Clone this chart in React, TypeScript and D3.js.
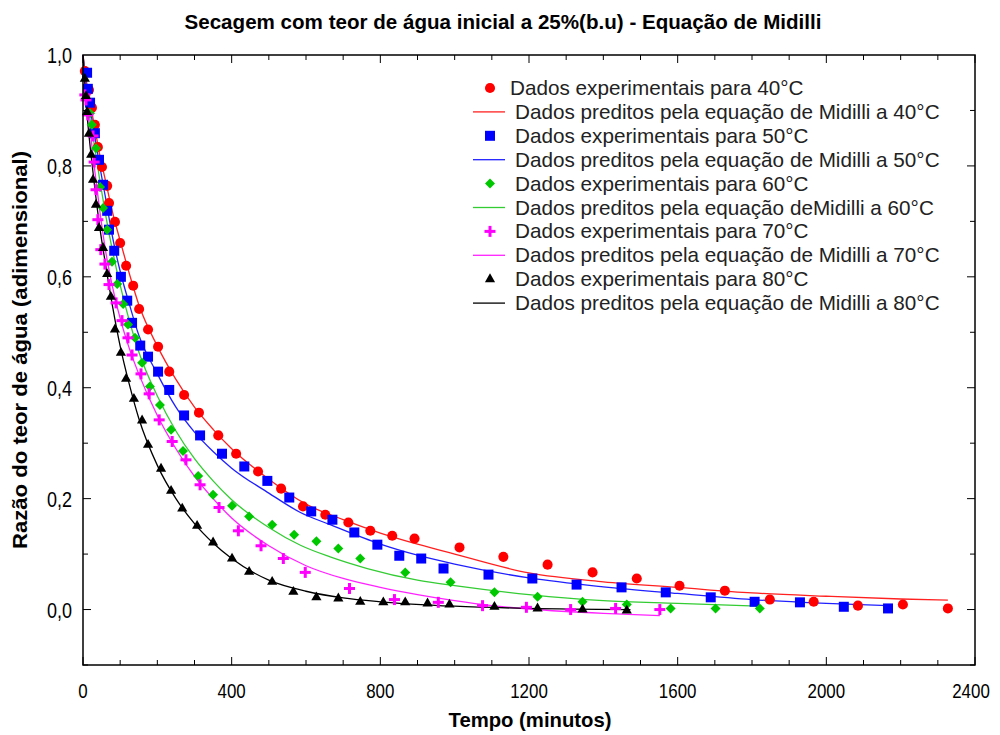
import React from "react";
import * as d3 from "d3";

// experimental points: [tempo (min), razão]
const exp40 = [
  [5, 0.971], [16, 0.937], [24, 0.905], [32, 0.874], [40, 0.834], [51, 0.798], [65, 0.764],
  [70, 0.733], [86, 0.699], [100, 0.661], [116, 0.62], [135, 0.584], [151, 0.542], [175, 0.505],
  [202, 0.474], [232, 0.429], [272, 0.387], [312, 0.355], [364, 0.314], [412, 0.281], [471, 0.249],
  [533, 0.218], [592, 0.186], [652, 0.171], [714, 0.157], [773, 0.142], [832, 0.133], [892, 0.128],
  [1013, 0.112], [1131, 0.095], [1250, 0.081], [1371, 0.067], [1490, 0.056], [1605, 0.043],
  [1727, 0.034], [1848, 0.018], [1966, 0.014], [2085, 0.007], [2206, 0.009], [2327, 0.002],
];
const exp50 = [
  [11, 0.968], [13, 0.939], [19, 0.914], [32, 0.859], [43, 0.811], [54, 0.766], [65, 0.719],
  [70, 0.685], [84, 0.647], [102, 0.6], [119, 0.557], [132, 0.517], [154, 0.476], [175, 0.456],
  [202, 0.429], [232, 0.396], [272, 0.35], [315, 0.314], [374, 0.281], [434, 0.258], [496, 0.232],
  [555, 0.202], [614, 0.177], [671, 0.162], [730, 0.139], [792, 0.117], [851, 0.097], [910, 0.092],
  [970, 0.074], [1091, 0.063], [1209, 0.056], [1328, 0.045], [1449, 0.04], [1568, 0.031],
  [1689, 0.022], [1807, 0.014], [1929, 0.013], [2047, 0.005], [2166, 0.002],
];
const exp60 = [
  [19, 0.895], [24, 0.874], [35, 0.832], [46, 0.762], [54, 0.724], [65, 0.685], [78, 0.627],
  [92, 0.587], [108, 0.551], [121, 0.514], [140, 0.49], [159, 0.445], [180, 0.402], [207, 0.369],
  [237, 0.324], [269, 0.286], [310, 0.241], [350, 0.207], [401, 0.187], [447, 0.168], [509, 0.153],
  [568, 0.135], [628, 0.123], [687, 0.11], [746, 0.092], [867, 0.067], [989, 0.049], [1107, 0.031],
  [1223, 0.023], [1344, 0.014], [1463, 0.009], [1581, 0.002], [1702, 0.002], [1821, 0.002],
];
const exp70 = [
  [5, 0.928], [8, 0.919], [13, 0.892], [27, 0.854], [30, 0.807], [35, 0.757], [40, 0.703],
  [48, 0.649], [59, 0.623], [70, 0.586], [89, 0.553], [105, 0.521], [121, 0.49], [132, 0.459],
  [156, 0.425], [178, 0.389], [205, 0.342], [240, 0.303], [277, 0.27], [315, 0.225], [366, 0.184],
  [418, 0.142], [479, 0.115], [539, 0.092], [598, 0.067], [717, 0.038], [838, 0.018], [956, 0.013],
  [1075, 0.007], [1193, 0.004], [1312, 0.0], [1433, 0.002], [1552, 0.0],
];
const exp80 = [
  [5, 0.957], [8, 0.926], [11, 0.897], [16, 0.858], [22, 0.82], [27, 0.775], [35, 0.73],
  [43, 0.688], [54, 0.652], [65, 0.605], [75, 0.564], [86, 0.505], [102, 0.463], [116, 0.416],
  [137, 0.38], [159, 0.341], [175, 0.297], [210, 0.254], [237, 0.214], [267, 0.182], [307, 0.151],
  [350, 0.121], [401, 0.092], [447, 0.068], [509, 0.05], [566, 0.032], [628, 0.022], [687, 0.02],
  [746, 0.014], [808, 0.013], [867, 0.013], [927, 0.011], [986, 0.009], [1107, 0.005],
  [1223, 0.002], [1344, 0.0], [1463, -0.002],
];

// predicted curves (Midilli)
const fit40 = [
  [0, 1.0], [10, 0.95], [20, 0.91], [30, 0.875], [45, 0.82], [60, 0.775], [80, 0.715], [100, 0.665],
  [125, 0.605], [150, 0.55], [200, 0.475], [250, 0.415], [300, 0.365], [350, 0.325], [400, 0.29],
  [500, 0.235], [600, 0.19], [700, 0.162], [800, 0.138], [900, 0.118], [1000, 0.1], [1200, 0.066],
  [1400, 0.05], [1600, 0.04], [1800, 0.03], [2000, 0.024], [2200, 0.019], [2327, 0.017],
];
const fit50 = [
  [0, 1.0], [10, 0.94], [20, 0.9], [30, 0.86], [45, 0.8], [60, 0.745], [80, 0.67], [100, 0.61],
  [125, 0.55], [150, 0.495], [200, 0.425], [250, 0.365], [300, 0.32], [350, 0.285], [400, 0.255],
  [500, 0.21], [585, 0.175], [665, 0.153], [800, 0.118], [900, 0.098], [1000, 0.082], [1200, 0.057],
  [1400, 0.041], [1600, 0.029], [1800, 0.018], [2000, 0.011], [2166, 0.007],
];
const fit60 = [
  [0, 1.0], [10, 0.93], [20, 0.88], [30, 0.84], [45, 0.775], [60, 0.715], [80, 0.645], [100, 0.585],
  [125, 0.52], [150, 0.465], [200, 0.385], [250, 0.322], [300, 0.272], [350, 0.232], [400, 0.198],
  [500, 0.148], [585, 0.116], [665, 0.095], [765, 0.074], [900, 0.053], [1000, 0.043], [1200, 0.027],
  [1400, 0.016], [1600, 0.011], [1815, 0.006],
];
const fit70 = [
  [0, 1.0], [10, 0.92], [20, 0.86], [30, 0.8], [45, 0.72], [60, 0.65], [80, 0.58], [100, 0.525],
  [125, 0.47], [150, 0.425], [200, 0.35], [250, 0.29], [300, 0.24], [350, 0.2], [400, 0.165],
  [500, 0.115], [600, 0.079], [700, 0.056], [800, 0.04], [900, 0.027], [1000, 0.016], [1100, 0.007],
  [1200, 0.001], [1400, -0.007], [1552, -0.011],
];
const fit80 = [
  [0, 1.0], [10, 0.9], [20, 0.83], [30, 0.77], [45, 0.69], [60, 0.625], [80, 0.545], [100, 0.475],
  [125, 0.405], [150, 0.345], [200, 0.26], [250, 0.2], [300, 0.155], [350, 0.12], [400, 0.092],
  [500, 0.053], [600, 0.033], [700, 0.021], [800, 0.014], [1000, 0.006], [1200, 0.002], [1473, 0.0],
];

const xLabels = [0, 400, 800, 1200, 1600, 2000, 2400];
const yLabels = ["0,0", "0,2", "0,4", "0,6", "0,8", "1,0"];

const series = [
  { exp: exp40, fit: fit40, mark: "circle", color: "#ff0000", line: "#ff2020", t: "40" },
  { exp: exp50, fit: fit50, mark: "square", color: "#0000ff", line: "#2020ff", t: "50" },
  { exp: exp60, fit: fit60, mark: "diamond", color: "#00c800", line: "#33cc33", t: "60" },
  { exp: exp70, fit: fit70, mark: "plus", color: "#ff00ff", line: "#ff22ff", t: "70" },
  { exp: exp80, fit: fit80, mark: "triangle", color: "#000000", line: "#000000", t: "80" },
];

const font = "'Liberation Sans', Arial, sans-serif";

function Marker({ type, x, y, color }: { type: string; x: number; y: number; color: string }) {
  if (type === "plus") {
    return (
      <g stroke={color} strokeWidth={3}>
        <line x1={x - 5.5} y1={y} x2={x + 5.5} y2={y} />
        <line x1={x} y1={y - 5.5} x2={x} y2={y + 5.5} />
      </g>
    );
  }
  if (type === "diamond") {
    const r = 5;
    return (
      <path
        d={`M${x},${y - r}L${x + r},${y}L${x},${y + r}L${x - r},${y}Z`}
        fill={color}
      />
    );
  }
  const sym =
    type === "circle" ? d3.symbolCircle : type === "square" ? d3.symbolSquare : d3.symbolTriangle;
  const size = type === "circle" ? 80 : type === "square" ? 100 : 45;
  const d = d3.symbol().type(sym).size(size)() as string;
  return <path d={d} transform={`translate(${x},${y})`} fill={color} />;
}

export default function App() {
  const left = 83;
  const right = 975;
  const top = 55;
  const bottom = 665;

  const x = d3.scaleLinear().domain([0, 2400]).range([left, right]);
  const y = d3.scaleLinear().domain([-0.1, 1.0]).range([bottom, top]);

  const line = d3
    .line<number[]>()
    .x((d) => x(d[0]))
    .y((d) => y(d[1]))
    .curve(d3.curveMonotoneX);

  const xMinor = d3.range(0, 2401, 100);
  const yMinor = d3.range(0, 11).map((i) => -0.1 + i * 0.1);

  const legendY0 = 90;
  const legendStep = 23.9;

  return (
    <svg
      width={1000}
      height={735}
      style={{ position: "absolute", left: 0, top: 0, background: "#fff" }}
      fontFamily={font}
    >
      <rect x={0} y={0} width={1000} height={735} fill="#fff" />
      <text
        x={503}
        y={29}
        textAnchor="middle"
        fontSize={21}
        fontWeight="bold"
        textLength={637}
        lengthAdjust="spacingAndGlyphs"
      >
        Secagem com teor de água inicial a 25%(b.u) - Equação de Midilli
      </text>

      {/* ticks on all four sides, pointing inward */}
      <g stroke="#000" strokeWidth={1}>
        {xMinor.map((v) => {
          const len = v % 400 === 0 ? 8 : 5;
          return (
            <g key={"x" + v}>
              <line x1={x(v)} x2={x(v)} y1={bottom} y2={bottom - len} />
              <line x1={x(v)} x2={x(v)} y1={top} y2={top + len} />
            </g>
          );
        })}
        {yMinor.map((v, i) => {
          const len = i % 2 === 1 ? 8 : 5;
          return (
            <g key={"y" + i}>
              <line x1={left} x2={left + len} y1={y(v)} y2={y(v)} />
              <line x1={right} x2={right - len} y1={y(v)} y2={y(v)} />
            </g>
          );
        })}
      </g>

      {xLabels.map((v) => (
        <text
          key={v}
          x={v === 2400 ? x(v) - 4 : x(v)}
          y={698}
          textAnchor="middle"
          fontSize={20}
          textLength={String(v).length * 9.4}
          lengthAdjust="spacingAndGlyphs"
        >
          {v}
        </text>
      ))}
      {yLabels.map((s, i) => (
        <text
          key={s}
          x={72}
          y={y(i * 0.2) + 8}
          textAnchor="end"
          fontSize={22}
          textLength={25}
          lengthAdjust="spacingAndGlyphs"
        >
          {s}
        </text>
      ))}

      <text
        x={530}
        y={727}
        textAnchor="middle"
        fontSize={21}
        fontWeight="bold"
        textLength={163}
        lengthAdjust="spacingAndGlyphs"
      >
        Tempo (minutos)
      </text>
      <text
        transform={`translate(27,${350}) rotate(-90)`}
        textAnchor="middle"
        fontSize={21}
        fontWeight="bold"
        textLength={398}
        lengthAdjust="spacingAndGlyphs"
      >
        Razão do teor de água (adimensional)
      </text>

      <g>
        {series.map((s) => (
          <path
            key={"f" + s.t}
            d={line(s.fit) as string}
            fill="none"
            stroke={s.line}
            strokeWidth={1.3}
          />
        ))}
        {series.map((s) => (
          <g key={"e" + s.t}>
            {s.exp.map((p, i) => (
              <Marker key={i} type={s.mark} x={x(p[0])} y={y(p[1])} color={s.color} />
            ))}
          </g>
        ))}
      </g>

      <rect
        x={left}
        y={top}
        width={right - left}
        height={bottom - top}
        fill="none"
        stroke="#000"
        strokeWidth={1.5}
      />

      <g fontSize={20.7} fill="#222">
        {series.map((s, i) => {
          const ye = legendY0 + 2 * i * legendStep;
          const yf = ye + legendStep;
          return (
            <g key={"l" + s.t}>
              <Marker type={s.mark} x={490} y={ye - 2} color={s.color} />
              <text x={i === 0 ? 510 : 515} y={ye + 5}>
                {`Dados experimentais para ${s.t}°C`}
              </text>
              <line x1={473} x2={505} y1={yf - 2} y2={yf - 2} stroke={s.line} strokeWidth={1.3} />
              <text x={515} y={yf + 5}>
                {i === 2
                  ? `Dados preditos pela equação deMidilli a ${s.t}°C`
                  : `Dados preditos pela equação de Midilli a ${s.t}°C`}
              </text>
            </g>
          );
        })}
      </g>
    </svg>
  );
}
